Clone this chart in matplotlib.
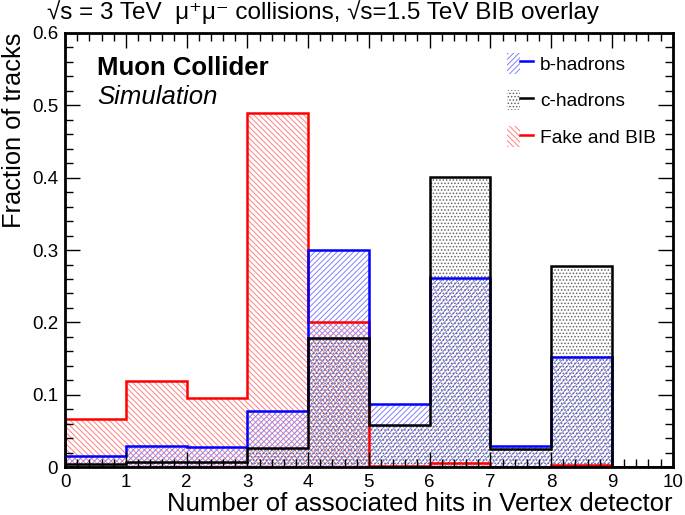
import numpy as np
import matplotlib
matplotlib.use("Agg")
import matplotlib.pyplot as plt
from matplotlib.patches import Patch
from matplotlib.lines import Line2D
from matplotlib.legend_handler import HandlerTuple
from matplotlib.ticker import MultipleLocator

plt.rcParams['font.family'] = ['Liberation Sans', 'DejaVu Sans']
plt.rcParams['hatch.linewidth'] = 0.7

# bins: number of associated hits, 0..10
edges = np.arange(0, 11)
b_hadrons = [0.016, 0.029, 0.028, 0.077, 0.300, 0.087, 0.261, 0.029, 0.152, 0.0]
c_hadrons = [0.004, 0.007, 0.007, 0.026, 0.178, 0.058, 0.401, 0.025, 0.278, 0.0]
fake_bib = [0.066, 0.119, 0.095, 0.489, 0.201, 0.002, 0.005, 0.0005, 0.003, 0.0]

labels = ['b-hadrons', 'c-hadrons', 'Fake and BIB']

blue_hatch = (0.5, 0.5, 1.0)
grey_dots = (0.4, 0.4, 0.4)
red_hatch = (1.0, 0.5, 0.5)

fig = plt.figure(figsize=(6.85, 5.15), dpi=100)
ax = fig.add_axes([0.095, 0.093, 0.887, 0.843])

centers = edges[:-1] + 0.5
# hatched fills (no outline), then the outlines as steps
ax.bar(centers, fake_bib, width=1.0, fill=False, linewidth=0,
       edgecolor=red_hatch, hatch='\\' * 6)
ax.bar(centers, b_hadrons, width=1.0, fill=False, linewidth=0,
       edgecolor=blue_hatch, hatch='/' * 6)
ax.bar(centers, c_hadrons, width=1.0, fill=False, linewidth=0,
       edgecolor=grey_dots, hatch='.....')

ax.stairs(fake_bib, edges, color='#ff0000', linewidth=1.8)
ax.stairs(b_hadrons, edges, color='#0000ff', linewidth=1.8)
ax.stairs(c_hadrons, edges, color='black', linewidth=1.8)

ax.set_xlim(0, 10)
ax.set_ylim(0, 0.6)
ax.xaxis.set_major_locator(MultipleLocator(1))
ax.xaxis.set_minor_locator(MultipleLocator(0.2))
ax.yaxis.set_major_locator(MultipleLocator(0.1))
ax.yaxis.set_minor_locator(MultipleLocator(0.02))
ax.tick_params(which='both', direction='in', top=True, right=True,
               labelsize=13.5, width=1.0, pad=5)
ax.tick_params(which='major', length=11)
ax.tick_params(which='minor', length=6)
for s in ax.spines.values():
    s.set_linewidth(2.0)

ax.set_yticks([0, 0.1, 0.2, 0.3, 0.4, 0.5, 0.6])
ax.set_yticklabels(['0', '0.1', '0.2', '0.3', '0.4', '0.5', '0.6'])

ax.set_xlabel('Number of associated hits in Vertex detector', fontsize=18.5,
              loc='right', labelpad=1)
ax.set_ylabel('Fraction of tracks', fontsize=18.3, loc='top', labelpad=4)

fig.text(0.068, 0.976,
         '\u221as = 3 TeV  \u03bc\u207a\u03bc\u207b collisions, \u221as=1.5 TeV BIB overlay',
         fontsize=17.5, ha='left', va='center')

ax.text(0.053, 0.919, 'Muon Collider', transform=ax.transAxes,
        fontsize=18.5, fontweight='bold', va='center')
ax.text(0.053, 0.853, 'Simulation', transform=ax.transAxes,
        fontsize=18.5, style='italic', va='center')

handles = [
    (Patch(facecolor='none', edgecolor=blue_hatch, hatch='/' * 6, linewidth=0),
     Line2D([], [], color='#0000ff', linewidth=1.8)),
    (Patch(facecolor='none', edgecolor=grey_dots, hatch='.....', linewidth=0),
     Line2D([], [], color='black', linewidth=1.8)),
    (Patch(facecolor='none', edgecolor=red_hatch, hatch='\\' * 6, linewidth=0),
     Line2D([], [], color='#ff0000', linewidth=1.8)),
]
ax.legend(handles, labels, handler_map={tuple: HandlerTuple(ndivide=None, pad=0)},
          loc='upper left', bbox_to_anchor=(0.727, 0.954), frameon=False,
          borderaxespad=0, borderpad=0,
          fontsize=13.8, handlelength=1.37, handleheight=1.3, labelspacing=0.82,
          handletextpad=0.37)

fig.savefig('out.png', dpi=100)
